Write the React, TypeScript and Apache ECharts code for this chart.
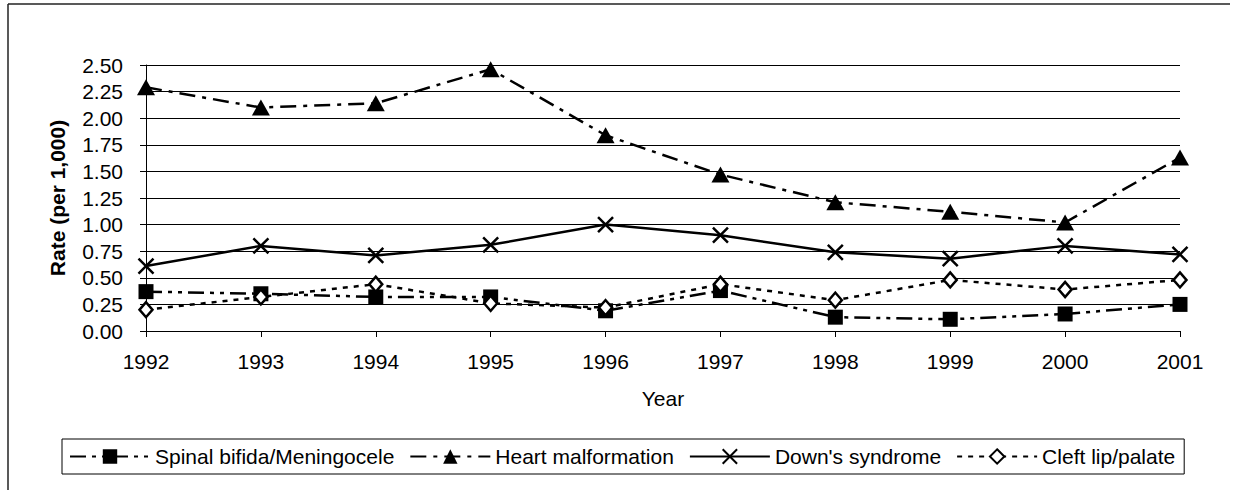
import React, { useEffect, useRef } from "react";
import * as echarts from "echarts";

const years = ["1992", "1993", "1994", "1995", "1996", "1997", "1998", "1999", "2000", "2001"];
const spinalBifida = [0.37, 0.35, 0.32, 0.32, 0.19, 0.38, 0.13, 0.11, 0.16, 0.25];
const heartMalformation = [2.29, 2.10, 2.14, 2.46, 1.84, 1.47, 1.21, 1.12, 1.02, 1.63];
const downsSyndrome = [0.61, 0.80, 0.71, 0.81, 1.00, 0.90, 0.74, 0.68, 0.80, 0.72];
const cleftLip = [0.20, 0.32, 0.44, 0.26, 0.22, 0.44, 0.29, 0.48, 0.39, 0.48];
const seriesNames = ["Spinal bifida/Meningocele", "Heart malformation", "Down's syndrome", "Cleft lip/palate"];

const FONT = "'Liberation Sans', Arial, sans-serif";

export default function App() {
  const ref = useRef<HTMLDivElement>(null);
  useEffect(() => {
    if (!ref.current) return;
    const chart = echarts.init(ref.current, null, { renderer: "svg" });
    chart.setOption({
      animation: false,
      backgroundColor: "#fff",
      textStyle: { fontFamily: FONT, color: "#000" },
      graphic: [
        { type: "line", shape: { x1: 8, y1: 4, x2: 1230, y2: 4 }, style: { stroke: "#222", lineWidth: 1.5 } },
        { type: "line", shape: { x1: 8, y1: 4, x2: 8, y2: 490 }, style: { stroke: "#222", lineWidth: 1.5 } },
      ],
      grid: { left: 146, right: 55, top: 65, bottom: 159 },
      legend: {
        left: 62,
        top: 439,
        orient: "horizontal",
        itemWidth: 80,
        itemHeight: 18,
        itemGap: 15,
        padding: [7, 9, 7, 7],
        borderColor: "#000",
        borderWidth: 1,
        textStyle: { fontSize: 21, color: "#000", fontFamily: FONT, lineHeight: 21 },
        data: seriesNames,
      },
      xAxis: {
        type: "category",
        data: years,
        boundaryGap: false,
        name: "Year",
        nameLocation: "middle",
        nameGap: 57,
        nameTextStyle: { fontSize: 21, color: "#000", fontFamily: FONT },
        axisLine: { lineStyle: { color: "#000", width: 1 } },
        axisTick: { length: 6, lineStyle: { color: "#000" } },
        axisLabel: { fontSize: 21, color: "#000", margin: 20, fontFamily: FONT },
      },
      yAxis: {
        type: "value",
        min: 0,
        max: 2.5,
        interval: 0.25,
        name: "Rate (per 1,000)",
        nameLocation: "middle",
        nameGap: 78,
        nameTextStyle: { fontSize: 21, fontWeight: "bold", color: "#000", fontFamily: FONT },
        axisLine: { show: true, lineStyle: { color: "#000", width: 1 } },
        axisTick: { show: true, length: 6, lineStyle: { color: "#000" } },
        axisLabel: {
          fontSize: 21,
          color: "#000",
          margin: 23,
          fontFamily: FONT,
          formatter: (v: number) => v.toFixed(2),
        },
        splitLine: { show: true, lineStyle: { color: "#000", width: 1 } },
      },
      series: [
        {
          name: seriesNames[0],
          type: "line",
          data: spinalBifida,
          symbol: "rect",
          symbolSize: 15,
          itemStyle: { color: "#000" },
          lineStyle: { color: "#000", width: 2.5, type: [16, 6, 4, 6, 4, 6] },
        },
        {
          name: seriesNames[1],
          type: "line",
          data: heartMalformation,
          symbol: "triangle",
          symbolSize: [18, 16],
          itemStyle: { color: "#000" },
          lineStyle: { color: "#000", width: 2.5, type: [16, 7, 4, 7] },
        },
        {
          name: seriesNames[2],
          type: "line",
          data: downsSyndrome,
          symbol: "path://M0,0L10,10M10,0L0,10",
          symbolSize: 15,
          itemStyle: { color: "#000", borderColor: "#000", borderWidth: 2.5 },
          lineStyle: { color: "#000", width: 2.5, type: "solid" },
        },
        {
          name: seriesNames[3],
          type: "line",
          data: cleftLip,
          symbol: "diamond",
          symbolSize: [13, 15],
          itemStyle: { color: "#fff", borderColor: "#000", borderWidth: 2.5 },
          lineStyle: { color: "#000", width: 2.5, type: [5, 6] },
        },
      ],
    });
    return () => chart.dispose();
  }, []);
  return <div ref={ref} style={{ width: 1235, height: 490, position: "absolute", left: 0, top: 0 }} />;
}
